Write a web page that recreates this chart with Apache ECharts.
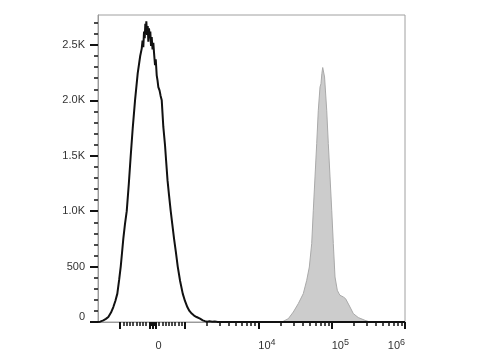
<!DOCTYPE html>
<html>
<head>
<meta charset="utf-8">
<script src="https://cdn.jsdelivr.net/npm/echarts@6/dist/echarts.min.js"></script>
<style>html,body{margin:0;padding:0;background:#fff}#c{width:480px;height:360px}</style>
</head>
<body>
<div id="c"></div>
<script>
// ---- data (fluorescence value, event count) ----
const blackX = [-2000,-1870,-1692,-1560,-1446,-1330,-1236,-1160,-1090,-1030,-980,-940,-900,-850,-795,-730,-672,-610,-539,-456,-380,-333,-308,-284,-262,-240,-222,-206,-191,-169,-148,-129,-108,-86,-68,-46,-25,0,25,46,77,99,129,154,179,216,250,284,333,385,420,462,510,561,610,663,720,777,850,931,1000,1077,1150,1236,1330,1440,1604,1750,1875,2000,2150,2350,2550,2800,3000,1000000];
const blackY = [0,3,15,28,45,85,135,190,256,380,500,625,753,880,1000,1250,1500,1750,2000,2245,2400,2467,2540,2480,2620,2560,2690,2600,2714,2590,2670,2530,2650,2560,2620,2490,2570,2460,2520,2430,2317,2370,2226,2180,2120,2090,2040,2000,1760,1595,1450,1280,1140,1000,880,753,630,500,370,256,190,135,100,76,58,45,30,15,8,3,6,2,5,1,0,0];
const grayX = [21000,21920,25650,30000,35100,41050,45700,49600,53450,56200,59300,62550,65750,69400,71500,73500,75500,80000,85600,90000,95000,100200,105300,111100,119400,125000,130000,137000,144200,150000,155000,160400,177900,197300,230700,285000,333300,400000];
const grayY = [0,5,30,90,166,256,376,496,708,1008,1309,1610,1911,2121,2150,2240,2296,2211,1911,1610,1309,1008,708,406,286,260,241,235,226,228,210,196,135,76,40,15,0,0];

const xMajorTicks = [-1000,-100,0,100,1000,10000,100000,1000000];
const xLabelValues = [0,10000,100000,1000000];
const xLabelTexts = ['{z|0}{s| }','{b|10}{s|4}','{b|10}{s|5}','{b|10}{s|6}'];
const xMinorMultipliers = [2,3,4,5,6,7,8,9];
const xMinorDecades = [-100,-10,10,100,1000,10000,100000];
const yMajorTicks = [0,500,1000,1500,2000,2500];
const yMinorStep = 100;
const yMax = 2770;
const xMinValue = -2000, xMaxValue = 1000000;

// ---- biexponential-like display transform ----
function T(v){
  const a = Math.abs(v), s = Math.sign(v);
  return a <= 1000 ? v * 0.03245 : s * (32.45 + 73.35 * Math.log10(a / 1000));
}

const xMinor = [];
xMinorDecades.forEach(d => xMinorMultipliers.forEach(m => xMinor.push(T(d * m))));
const yMinor = [];
for (let v = yMinorStep; v <= yMax; v += yMinorStep) if (v % 500 !== 0) yMinor.push(v);

const xLabelD = xLabelValues.map(T);
const font = 'Liberation Sans, Arial, sans-serif';
const txt = '#333';

const chart = echarts.init(document.getElementById('c'), null, {renderer:'canvas'});
chart.setOption({
  animation: false,
  backgroundColor: '#fff',
  grid: {left: 98, right: 75, top: 15, bottom: 38, show: true, borderColor: '#a0a0a0', borderWidth: 1, containLabel: false},
  xAxis: [
    {
      type: 'value', min: T(xMinValue), max: T(xMaxValue), position: 'bottom',
      axisLine: {show: true, onZero: false, lineStyle: {color: '#9a9a9a', width: 1}},
      axisTick: {show: true, customValues: xMajorTicks.map(T), length: 7, lineStyle: {color: '#111', width: 2}},
      axisLabel: {
        customValues: xLabelD, margin: 16, align: 'left', alignMaxLabel: 'right',
        fontSize: 11, color: txt, fontFamily: font,
        formatter: function (val) {
          let best = 0, bd = 1e9;
          xLabelD.forEach((d, i) => { if (Math.abs(d - val) < bd) { bd = Math.abs(d - val); best = i; } });
          return xLabelTexts[best];
        },
        rich: {
          b: {fontSize: 11, color: txt, fontFamily: font},
          z: {fontSize: 11, color: txt, fontFamily: font, padding: [0, 0, 0, 3]},
          s: {fontSize: 9, color: txt, fontFamily: font, padding: [0, 0, 7, 0]}
        }
      },
      splitLine: {show: false}
    },
    {
      type: 'value', min: T(xMinValue), max: T(xMaxValue), position: 'bottom',
      axisLine: {show: false, onZero: false},
      axisTick: {show: true, customValues: xMinor, length: 4, lineStyle: {color: '#111', width: 1.5}},
      axisLabel: {show: false},
      splitLine: {show: false}
    }
  ],
  yAxis: [
    {
      type: 'value', min: 0, max: yMax, position: 'left',
      axisLine: {show: true, onZero: false, lineStyle: {color: '#9a9a9a', width: 1}},
      axisTick: {show: true, customValues: yMajorTicks, length: 8, lineStyle: {color: '#111', width: 2}},
      axisLabel: {
        customValues: yMajorTicks, margin: 13, fontSize: 11, color: txt, fontFamily: font,
        formatter: function (v) {
          if (v === 0) return '{z|0}';
          if (v < 1000) return String(v);
          return (v / 1000).toFixed(1) + 'K';
        },
        rich: {z: {fontSize: 11, color: txt, fontFamily: font, padding: [0, 0, 10, 0]}}
      },
      splitLine: {show: false}
    },
    {
      type: 'value', min: 0, max: yMax, position: 'left',
      axisLine: {show: false, onZero: false},
      axisTick: {show: true, customValues: yMinor, length: 4, lineStyle: {color: '#111', width: 1.5}},
      axisLabel: {show: false},
      splitLine: {show: false}
    }
  ],
  series: [
    {
      type: 'line', name: 'stained', xAxisIndex: 0, yAxisIndex: 0,
      data: grayX.map((v, i) => [T(v), grayY[i]]),
      showSymbol: false, symbol: 'none', z: 2,
      lineStyle: {color: '#a9a9a9', width: 1},
      areaStyle: {color: '#cccccc', opacity: 1}
    },
    {
      type: 'line', name: 'control', xAxisIndex: 0, yAxisIndex: 0,
      data: blackX.map((v, i) => [T(v), blackY[i]]),
      showSymbol: false, symbol: 'none', z: 3,
      lineStyle: {color: '#111', width: 2}
    }
  ]
});
</script>
</body>
</html>
